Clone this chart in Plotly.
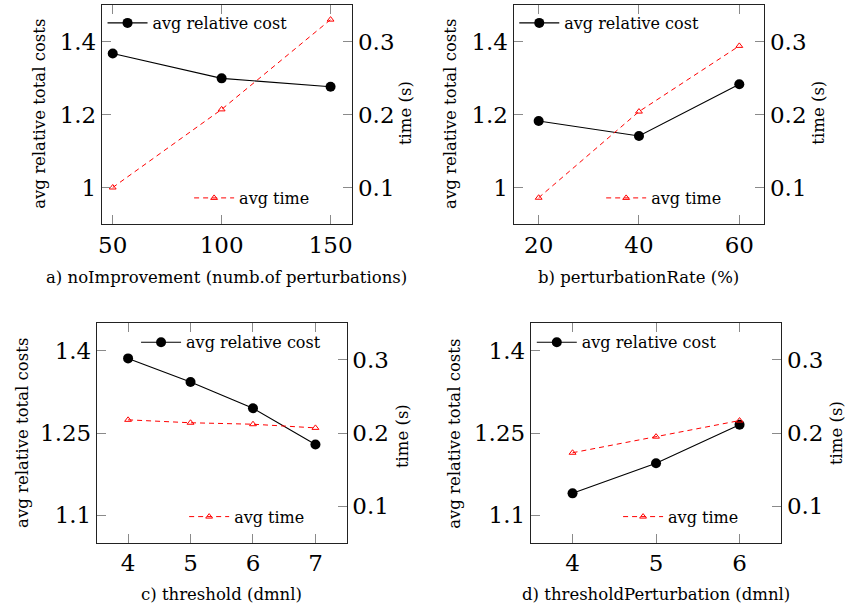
import plotly.graph_objects as go

# ---------------- data ----------------
a_x = [50, 100, 150]
a_cost = [1.367, 1.299, 1.276]
a_time = [0.100, 0.207, 0.330]

b_x = [20, 40, 60]
b_cost = [1.182, 1.141, 1.283]
b_time = [0.086, 0.204, 0.294]

c_x = [4, 5, 6, 7]
c_cost = [1.386, 1.343, 1.295, 1.229]
c_time = [0.218, 0.214, 0.212, 0.207]

d_x = [4, 5, 6]
d_cost = [1.140, 1.195, 1.265]
d_time = [0.173, 0.195, 0.217]

x_titles = ["a) noImprovement (numb.of perturbations)",
            "b) perturbationRate (%)",
            "c) threshold (dmnl)",
            "d) thresholdPerturbation (dmnl)"]
cost_label = "avg relative cost"
time_label = "avg time"
left_title = "avg relative total costs"
right_title = "time (s)"

ticks_ab_left = [1.0, 1.2, 1.4]
ticks_cd_left = [1.1, 1.25, 1.4]
ticks_right = [0.1, 0.2, 0.3]

# ---------------- layout geometry (screen pixels) ----------------
W, H = 845, 608
FONT = "DejaVu Serif"
TICK_FS = 23
LEG_FS = 16
TITLE_FS = 16.5


def px(sx):
    return sx / W


def py(sy):
    return 1 - sy / H


panels = [
    dict(x=a_x, cost=a_cost, time=a_time, box=(98.3, 350, 5, 224), xr=[45, 160],
         yl=[0.9, 1.5], ylt=ticks_ab_left, ylt_text=["1", "1.2", "1.4"], xt=a_x,
         leg1=(99, 23), leg2=(186, 198),
         tl=(35, 114), tr=(404, 113), tb=(224, 277)),
    dict(x=b_x, cost=b_cost, time=b_time, box=(512, 764, 5, 224), xr=[15, 65],
         yl=[0.9, 1.5], ylt=ticks_ab_left, ylt_text=["1", "1.2", "1.4"], xt=b_x,
         leg1=(512.7, 23), leg2=(600, 198),
         tl=(448, 114), tr=(818.5, 113), tb=(638, 277)),
    dict(x=c_x, cost=c_cost, time=c_time, box=(93.3, 344.3, 323.3, 542.7), xr=[3.5, 7.5],
         yl=[1.05, 1.45], ylt=ticks_cd_left, ylt_text=["1.1", "1.25", "1.4"], xt=c_x,
         leg1=(132.7, 342.3), leg2=(181, 516.7),
         tl=(18, 433), tr=(400, 436), tb=(219, 594)),
    dict(x=d_x, cost=d_cost, time=d_time, box=(529.3, 781, 323.3, 542.7), xr=[3.5, 6.5],
         yl=[1.05, 1.45], ylt=ticks_cd_left, ylt_text=["1.1", "1.25", "1.4"], xt=d_x,
         leg1=(530.3, 342.3), leg2=(617, 516.7),
         tl=(452, 434), tr=(836, 433), tb=(655, 594)),
]

fig = go.Figure()
layout = dict(
    width=W, height=H,
    margin=dict(l=0, r=0, t=0, b=0),
    paper_bgcolor="white", plot_bgcolor="white",
    font=dict(family=FONT, size=LEG_FS, color="black"),
    hovermode=False,
    annotations=[],
)

axis_line = "#222222"
tick_col = "#8a8a8a"

for i, p in enumerate(panels):
    xid = "x" if i == 0 else f"x{i+1}"
    xkey = "xaxis" if i == 0 else f"xaxis{i+1}"
    yl_n, yr_n = 2 * i + 1, 2 * i + 2
    ylid = "y" if yl_n == 1 else f"y{yl_n}"
    yrid = f"y{yr_n}"
    ylkey = "yaxis" if yl_n == 1 else f"yaxis{yl_n}"
    yrkey = f"yaxis{yr_n}"
    lg1 = "legend" if yl_n == 1 else f"legend{yl_n}"
    lg2 = f"legend{yr_n}"

    x0, x1, ytop, ybot = p["box"]
    fig.add_trace(go.Scatter(
        x=p["x"], y=p["cost"], name=cost_label, mode="lines+markers",
        line=dict(color="black", width=1.1),
        marker=dict(symbol="circle", size=10, color="black"),
        xaxis=xid, yaxis=ylid, legend=lg1, showlegend=True, cliponaxis=False))
    fig.add_trace(go.Scatter(
        x=p["x"], y=p["time"], name=time_label, mode="lines+markers",
        line=dict(color="#ff0000", width=1, dash="5px,4px"),
        marker=dict(symbol="triangle-up-open", size=6, color="#ff0000",
                    line=dict(color="#ff0000", width=1)),
        xaxis=xid, yaxis=yrid, legend=lg2, showlegend=True, cliponaxis=False))

    layout[xkey] = dict(
        domain=[px(x0), px(x1)], anchor=ylid, range=p["xr"],
        tickmode="array", tickvals=p["xt"],
        ticks="inside", ticklen=9, tickwidth=1, tickcolor=tick_col,
        showline=True, linecolor=axis_line, linewidth=1, mirror="ticks",
        showgrid=False, zeroline=False,
        tickfont=dict(family=FONT, size=TICK_FS, color="black"),
        ticklabelstandoff=0,
    )
    layout[ylkey] = dict(
        domain=[py(ybot), py(ytop)], anchor=xid, range=p["yl"],
        tickmode="array", tickvals=p["ylt"], ticktext=p["ylt_text"],
        ticks="inside", ticklen=9, tickwidth=1, tickcolor=tick_col,
        showline=True, linecolor=axis_line, linewidth=1,
        showgrid=False, zeroline=False,
        tickfont=dict(family=FONT, size=TICK_FS, color="black"),
        ticklabelstandoff=0,
    )
    layout[yrkey] = dict(
        overlaying=ylid, side="right", anchor=xid, range=[0.05, 0.35],
        tickmode="array", tickvals=ticks_right,
        ticks="inside", ticklen=9, tickwidth=1, tickcolor=tick_col,
        showline=True, linecolor=axis_line, linewidth=1,
        showgrid=False, zeroline=False,
        tickfont=dict(family=FONT, size=TICK_FS, color="black"),
        ticklabelstandoff=0,
    )
    for key, (lx, ly) in ((lg1, p["leg1"]), (lg2, p["leg2"])):
        layout[key] = dict(
            x=px(lx), y=py(ly), xanchor="left", yanchor="middle",
            bgcolor="rgba(0,0,0,0)", borderwidth=0, itemwidth=40,
            font=dict(family=FONT, size=LEG_FS, color="black"),
        )
    layout["annotations"] += [
        dict(text=left_title, x=px(p["tl"][0]), y=py(p["tl"][1]), xref="paper", yref="paper",
             showarrow=False, textangle=-90, xanchor="center", yanchor="middle",
             font=dict(family=FONT, size=TITLE_FS, color="black")),
        dict(text=right_title, x=px(p["tr"][0]), y=py(p["tr"][1]), xref="paper", yref="paper",
             showarrow=False, textangle=-90, xanchor="center", yanchor="middle",
             font=dict(family=FONT, size=TITLE_FS, color="black")),
        dict(text=x_titles[i], x=px(p["tb"][0]), y=py(p["tb"][1]), xref="paper", yref="paper",
             showarrow=False, xanchor="center", yanchor="middle",
             font=dict(family=FONT, size=TITLE_FS, color="black")),
    ]

fig.update_layout(**layout)
fig.write_html("out.html", config={"displayModeBar": False, "staticPlot": True},
               post_script="document.body.style.margin='0px';")
